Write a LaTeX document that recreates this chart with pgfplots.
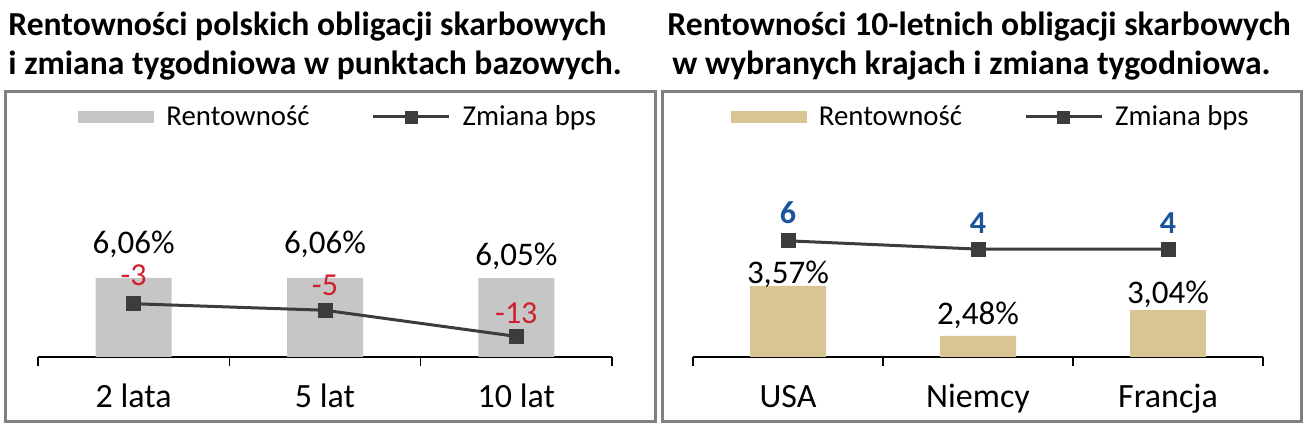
\documentclass[border=0pt]{standalone}
\usepackage{fontspec}
\setmainfont{Carlito}
\usepackage{pgfplots}
\usepackage{pgfplotstable}
\pgfplotsset{compat=1.18}
\definecolor{bargray}{HTML}{C6C6C6}
\definecolor{bartan}{HTML}{D9C594}
\definecolor{linecol}{HTML}{3C3C3C}
\definecolor{labred}{HTML}{D0202E}
\definecolor{labblue}{HTML}{1B5599}
\definecolor{boxgray}{HTML}{808080}

\pgfplotstableread{
x yld boff chg coff
0 6.06 12.3 -3 9.2
1 6.06 12.3 -5 7.5
2 6.05 6.3 -13 6.7
}\leftdata
\pgfplotstableread{
x yld boff chg coff
0 3.57 1.4 6 8.7
1 2.48 5.5 4 7.8
2 3.04 3.3 4 7.8
}\rightdata

\pgfplotsset{
  base/.style={
    scale only axis, width=287pt, height=108.5pt,
    xmin=-0.5, xmax=2.5, clip=false,
  },
  primary/.style={
    base,
    hide y axis, axis x line*=bottom,
    x axis line style={draw=black, line width=0.8pt},
    xtick={0,1,2},
    major tick length=0pt,
    minor xtick={-0.5,0.5,1.5,2.5},
    minor tick length=4.5pt,
    tick align=outside,
    tick style={black, line width=0.8pt},
    xticklabel style={font=\fontsize{17}{17}\selectfont, anchor=base, yshift=-25pt},
    legend columns=2,
    legend style={draw=none, fill=none, inner sep=0pt,
      font=\fontsize{14.4}{14.4}\selectfont,
      nodes={inner sep=0pt},
      /tikz/every odd column/.append style={column sep=6pt},
      /tikz/every even column/.append style={column sep=31pt}},
  },
  secondary/.style={base, hide axis},
  barlabels/.style={
    nodes near coords={\pgfmathprintnumber[assume math mode=true,use comma,fixed,fixed zerofill,precision=2]{\pgfplotspointmeta}\%},
    point meta=y,
    visualization depends on={\thisrow{boff}\as\myoff},
    every node near coord/.append style={anchor=base, yshift=\myoff pt, text=black, font=\fontsize{16.5}{16.5}\selectfont},
  },
  linelabels/.style={
    nodes near coords={\pgfmathprintnumber[assume math mode=true,fixed,precision=0]{\pgfplotspointmeta}},
    point meta=y,
    visualization depends on={\thisrow{coff}\as\myoff},
    every node near coord/.append style={anchor=base, yshift=\myoff pt, font=\fontsize{16}{16}\selectfont},
  },
  chgline/.style={linecol, line width=1.5pt, mark=square*, mark size=3pt, mark options={solid, fill=linecol, draw=linecol}},
  graylegend/.style={legend image code/.code={\fill[bargray] (0pt,-3.2pt) rectangle (38pt,3.2pt);}},
  tanlegend/.style={legend image code/.code={\fill[bartan] (0pt,-3.2pt) rectangle (38pt,3.2pt);}},
  linelegend/.style={legend image code/.code={\draw[linecol, line width=1.5pt] (0pt,0pt) -- (38pt,0pt); \fill[linecol] (16pt,-3pt) rectangle (22pt,3pt);}},
}

\begin{document}
\begin{tikzpicture}[x=1pt,y=1pt]
\useasboundingbox (0,0) rectangle (653,214);
% boxes
\draw[boxgray, line width=1.5pt] (2.5,3) rectangle (327.5,168);
\draw[boxgray, line width=1.5pt] (331,3) rectangle (650.5,168);
% titles
\node[anchor=base west, inner sep=0pt, font=\bfseries\fontsize{16.8}{16.8}\selectfont] at (4,196) {Rentowności polskich obligacji skarbowych};
\node[anchor=base west, inner sep=0pt, font=\bfseries\fontsize{16.8}{16.8}\selectfont] at (4,176.5) {i zmiana tygodniowa w punktach bazowych.};
\node[anchor=base west, inner sep=0pt, font=\bfseries\fontsize{16.8}{16.8}\selectfont] at (333.5,196) {Rentowności 10-letnich obligacji skarbowych};
\node[anchor=base west, inner sep=0pt, font=\bfseries\fontsize{16.8}{16.8}\selectfont] at (336,176.5) {w wybranych krajach i zmiana tygodniowa.};

% ---- left panel ----
\begin{axis}[primary, at={(19pt,35.5pt)}, anchor=south west,
  ymin=0, ymax=16.64,
  xticklabels={2 lata,5 lat,10 lat},
  legend style={at={(axis description cs:0.0697,1.106)}, anchor=west}]
\addplot[ybar, bar width=38pt, fill=bargray, draw=none, barlabels, graylegend]
  table[x=x, y=yld] {\leftdata};
\addlegendentry{Rentowność}
\addlegendimage{linelegend}
\addlegendentry{Zmiana bps}
\end{axis}
\begin{axis}[secondary, at={(19pt,35.5pt)}, anchor=south west,
  ymin=-19.3, ymax=47.1]
\addplot[chgline, linelabels, every node near coord/.append style={text=labred}]
  table[x=x, y=chg] {\leftdata};
\end{axis}

% ---- right panel ----
\begin{axis}[primary, at={(346.5pt,35.5pt)}, anchor=south west,
  width=285pt,
  ymin=2.02, ymax=6.75,
  xticklabels={USA,Niemcy,Francja},
  legend style={at={(axis description cs:0.0658,1.106)}, anchor=west}]
\addplot[ybar, bar width=38pt, fill=bartan, draw=none, barlabels, tanlegend]
  table[x=x, y=yld] {\rightdata};
\addlegendentry{Rentowność}
\addlegendimage{linelegend}
\addlegendentry{Zmiana bps}
\end{axis}
\begin{axis}[secondary, at={(346.5pt,35.5pt)}, anchor=south west,
  width=285pt,
  ymin=-22.0, ymax=30.3]
\addplot[chgline, linelabels, every node near coord/.append style={text=labblue, font=\bfseries\fontsize{16}{16}\selectfont}]
  table[x=x, y=chg] {\rightdata};
\end{axis}
\end{tikzpicture}
\end{document}
